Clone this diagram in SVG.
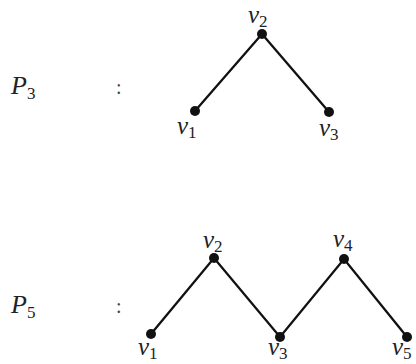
<svg xmlns="http://www.w3.org/2000/svg" width="416" height="364" viewBox="0 0 416 364">
<style>
.e{stroke:#111;stroke-width:2.3;fill:none}
.d{fill:#111}
.t{font-family:"Liberation Serif","Times New Roman",serif;font-style:italic;fill:#222}
.v{font-size:25px}
.p{font-size:26px}
.s{font-size:17px;font-style:normal}
.c{font-family:"Liberation Serif","Times New Roman",serif;font-size:20px;fill:#444}
</style>
<rect width="416" height="364" fill="#fff"/>
<g id="label-P3">
<text class="t p" x="11" y="94">P<tspan class="s" dy="5">3</tspan></text>
<text class="c" x="116" y="94">:</text>
</g>
<g id="label-P5">
<text class="t p" x="11" y="313">P<tspan class="s" dy="5">5</tspan></text>
<text class="c" x="116" y="313">:</text>
</g>
<g id="connectors">
<polyline class="e" points="195,111 262,34 329,112"/>
<polyline class="e" points="151,334 214,258 280,337 344,259 407,337"/>
</g>
<g id="p3-v1"><circle class="d" cx="195" cy="111" r="5"/><text class="t v" x="177" y="134">v<tspan class="s" dy="4">1</tspan></text></g>
<g id="p3-v2"><circle class="d" cx="262" cy="34" r="5"/><text class="t v" x="248" y="23">v<tspan class="s" dy="4">2</tspan></text></g>
<g id="p3-v3"><circle class="d" cx="329" cy="112" r="5"/><text class="t v" x="319" y="136">v<tspan class="s" dy="4">3</tspan></text></g>
<g id="p5-v1"><circle class="d" cx="151" cy="334" r="5"/><text class="t v" x="138" y="355">v<tspan class="s" dy="4">1</tspan></text></g>
<g id="p5-v2"><circle class="d" cx="214" cy="258" r="5"/><text class="t v" x="203" y="248">v<tspan class="s" dy="4">2</tspan></text></g>
<g id="p5-v3"><circle class="d" cx="280" cy="337" r="5"/><text class="t v" x="268" y="355">v<tspan class="s" dy="4">3</tspan></text></g>
<g id="p5-v4"><circle class="d" cx="344" cy="259" r="5"/><text class="t v" x="333" y="247">v<tspan class="s" dy="4">4</tspan></text></g>
<g id="p5-v5"><circle class="d" cx="407" cy="337" r="5"/><text class="t v" x="392" y="355">v<tspan class="s" dy="4">5</tspan></text></g>
</svg>
